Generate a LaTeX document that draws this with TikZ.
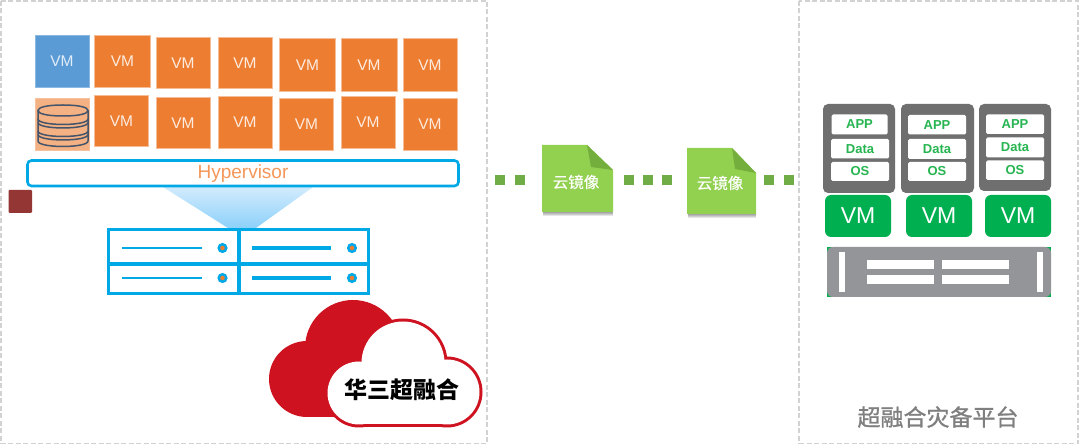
\documentclass[tikz,border=0pt]{standalone}
\usepackage{fontspec}
\setmainfont{Liberation Sans}
\newfontfamily\cjk{Noto Sans CJK SC}
\newfontfamily\cjkmed[FakeBold=0.5]{Noto Sans CJK SC}
\newfontfamily\cjktitle[FakeBold=1]{Noto Sans CJK SC}
\usetikzlibrary{shadings}
\definecolor{frameg}{HTML}{D2D2D2}
\definecolor{orangevm}{HTML}{ED7D31}
\definecolor{orangeedge}{HTML}{F6BE98}
\definecolor{bluevm}{HTML}{5B9BD5}
\definecolor{dbfill}{HTML}{F4B183}
\definecolor{dbline}{HTML}{44546A}
\definecolor{cyanline}{HTML}{00A9E6}
\definecolor{hyper}{HTML}{F4975A}
\definecolor{cloudred}{HTML}{CE1220}
\definecolor{docgreen}{HTML}{92D050}
\definecolor{docfold}{HTML}{74AE3C}
\definecolor{dotgreen}{HTML}{70AD47}
\definecolor{darkbox}{HTML}{6F6F70}
\definecolor{vmgreen}{HTML}{00B050}
\definecolor{textgreen}{HTML}{27B551}
\definecolor{rackgray}{HTML}{939598}
\definecolor{brickred}{HTML}{943634}
\definecolor{titlegray}{HTML}{7F7F7F}
\definecolor{beamtop}{HTML}{D2EBFD}
\definecolor{beambot}{HTML}{8DD1FA}
\newcommand{\bx}[7]{%
  \pgfmathsetmacro{\cxv}{(#3+#5)/2}\pgfmathsetmacro{\cyv}{(#4+#6)/2}%
  \pgfmathsetmacro{\wv}{#5-#3}\pgfmathsetmacro{\hv}{#6-#4}%
  \node[#2,minimum width=\wv pt,minimum height=\hv pt] (#1) at (\cxv,\cyv) {#7};}
\tikzset{
  x=1pt,y=-1pt,
  every node/.style={inner sep=0pt,outer sep=0pt},
  panel/.style={draw=frameg,line width=1.5pt,dash pattern=on 5pt off 2.5pt},
  orangebox/.style={fill=orangevm,draw=orangeedge,line width=0.7pt,text=white!85!orangevm,font=\fontsize{15.5}{15.5}\selectfont},
  bluebox/.style={fill=bluevm,draw=bluevm!70!white,line width=0.7pt,text=white!82!bluevm,font=\fontsize{15.5}{15.5}\selectfont},
  dbbox/.style={fill=dbfill,draw=dbfill!80!white,line width=0.7pt},
  dbstroke/.style={draw=dbline,line width=1.5pt},
  hyperbar/.style={draw=cyanline,fill=white,line width=2.6pt,rounded corners=4pt,text=hyper,font=\fontsize{19}{19}\selectfont},
  rack/.style={draw=cyanline,line width=3.3pt},
  rackthin/.style={draw=cyanline,line width=1.5pt},
  rackthick/.style={draw=cyanline,line width=3.6pt},
  leddot/.style={circle,fill=orangevm,draw=cyanline,line width=2.5pt,minimum size=7.5pt},
  squaredot/.style={fill=dotgreen,minimum size=10pt},
  doc/.style={fill=docgreen},
  docshadow/.style={fill=black,opacity=0.1},
  fold/.style={fill=docfold},
  doclabel/.style={text=white,font=\cjkmed\fontsize{15.5}{15.5}\selectfont},
  vmcase/.style={fill=darkbox,rounded corners=5pt},
  slot/.style={fill=white,rounded corners=1.5pt,text=textgreen,font=\bfseries\fontsize{13}{13}\selectfont},
  vmgreenbox/.style={fill=vmgreen,rounded corners=6pt,text=white,font=\fontsize{23}{23}\selectfont},
  chassis/.style={fill=rackgray,rounded corners=6pt},
  chassisbase/.style={fill=vmgreen},
  whitebar/.style={fill=white},
  cloudfill/.style={fill=cloudred},
  cloudtext/.style={text=black,font=\cjk\bfseries\fontsize{23}{23}\selectfont},
  titletext/.style={text=titlegray,font=\cjktitle\fontsize{23}{23}\selectfont},
}
\begin{document}
\begin{tikzpicture}
\useasboundingbox (0,0) rectangle (1080,446);
\fill[white] (0,0) rectangle (1080,446);
% panels
\draw[panel] (1,1) rectangle (487,443.5);
\draw[panel] (799,1) rectangle (1078,443.5);
% VM grid
\bx{vm0}{bluebox}{35}{35}{89}{87}{VM}
\bx{vm1}{orangebox}{94.5}{35}{150.5}{87}{VM}
\bx{vm2}{orangebox}{156}{37}{210}{88.5}{VM}
\bx{vm3}{orangebox}{218}{37}{272}{88.5}{VM}
\bx{vm4}{orangebox}{279.5}{38.5}{335.5}{91}{VM}
\bx{vm5}{orangebox}{341}{38.5}{397}{91}{VM}
\bx{vm6}{orangebox}{403}{38.5}{457}{91}{VM}
\bx{db}{dbbox}{35}{98.5}{89}{150.5}{}
\bx{vm7}{orangebox}{94.5}{95}{148.5}{146.5}{VM}
\bx{vm8}{orangebox}{156}{97}{210}{148.5}{VM}
\bx{vm9}{orangebox}{218}{96}{272}{148}{VM}
\bx{vm10}{orangebox}{279.5}{98.5}{333.5}{150.5}{VM}
\bx{vm11}{orangebox}{341}{96.5}{395}{148.5}{VM}
\bx{vm12}{orangebox}{403}{98.5}{457}{150.5}{VM}
% database icon
\draw[dbstroke] (38,110.5) -- (38,141) .. controls (38,148.3) and (88,148.3) .. (88,141) -- (88,110.5);
\draw[dbstroke] (63,105) .. controls (46,105) and (38,107.5) .. (38,110.5) .. controls (38,113.5) and (46,116) .. (63,116) .. controls (80,116) and (88,113.5) .. (88,110.5) .. controls (88,107.5) and (80,105) .. (63,105) -- cycle;
\foreach \yy in {119,122.5,131,134.5}
  \draw[dbstroke] (38,\yy) .. controls (38,\yy+7.3) and (88,\yy+7.3) .. (88,\yy);
% beam
\shade[top color=beamtop,bottom color=beambot] (163,187) -- (313,187) -- (256,228) -- (228,228) -- cycle;
% hypervisor
\bx{hv}{hyperbar}{27.5}{160.5}{458.5}{186}{\raisebox{-2pt}{Hypervisor}}
% brick
\bx{brick}{fill=brickred,rounded corners=1pt}{8.5}{190}{32}{213}{}
% blue server
\bx{srv}{rack}{108.5}{229.5}{368.5}{293.5}{}
\coordinate (vt) at (239,229.5); \coordinate (vb) at (239,293.5);
\coordinate (hl) at (108.5,264); \coordinate (hr) at (368.5,264);
\draw[rack] (vt) -- (vb);
\draw[rack] (hl) -- (hr);
\coordinate (la) at (122,248); \coordinate (lb) at (201.5,248);
\coordinate (lc) at (122,278); \coordinate (ld) at (201.5,278);
\coordinate (ra) at (252,248); \coordinate (rb) at (331,248);
\coordinate (rc) at (252,278); \coordinate (rd) at (331,278);
\draw[rackthin] (la) -- (lb);
\draw[rackthin] (lc) -- (ld);
\draw[rackthick] (ra) -- (rb);
\draw[rackthick] (rc) -- (rd);
\node[leddot] (led1) at (222.5,248) {};
\node[leddot] (led2) at (352,248) {};
\node[leddot] (led3) at (222.5,278) {};
\node[leddot] (led4) at (352,278) {};
% red cloud
\fill[cloudfill] (307,379) circle[radius=38pt];
\fill[cloudfill] (353,348) circle[radius=48pt];
\fill[cloudfill] (307,417) rectangle (400,340);
% white cloud with red rim
\fill[cloudfill] (403,363) circle[radius=44.5pt];
\fill[cloudfill] (359,393) circle[radius=34.5pt];
\fill[cloudfill] (447,392) circle[radius=35.5pt];
\fill[cloudfill] (359,392) rectangle (447,427.5);
\fill[white] (403,363) circle[radius=41.5pt];
\fill[white] (359,393) circle[radius=31.5pt];
\fill[white] (447,392) circle[radius=32.5pt];
\fill[white] (359,380) rectangle (447,424.5);
\node[cloudtext] (cloudlabel) at (402,390) {华三超融合};
% docs and dotted links
\foreach \n/\xx in {a/500,b/520,c/629,d/648,e/667,f/769,g/789}
  \node[squaredot] (dot\n) at (\xx,180) {};
\foreach \d in {1,2,3,4}{
  \fill[docshadow] (543,208) rectangle (613,212+\d);
  \fill[docshadow] (688,210) rectangle (756,214+\d);
}
\fill[doc] (542,145) -- (587,145) -- (613,170) -- (613,212) -- (542,212) -- cycle;
\fill[fold] (587,145) -- (613,170) -- (591,167) -- cycle;
\fill[doc] (687,148) -- (732,148) -- (756,173) -- (756,214) -- (687,214) -- cycle;
\fill[fold] (732,148) -- (756,173) -- (735,169) -- cycle;
\node[doclabel] (doc1) at (576,182) {云镜像};
\node[doclabel] (doc2) at (720,183) {云镜像};
% right stack
\bx{c1}{vmcase}{823}{104}{895}{193}{}
\bx{c2}{vmcase}{901}{104}{974}{193}{}
\bx{c3}{vmcase}{979}{104}{1051}{191}{}
\bx{a1}{slot}{831.5}{114.5}{887.5}{134.5}{APP}
\bx{d1}{slot}{831}{139}{889}{158.5}{Data}
\bx{o1}{slot}{831}{162}{889}{181}{OS}
\bx{a2}{slot}{908}{115}{966}{134.5}{APP}
\bx{d2}{slot}{908}{139}{966}{159}{Data}
\bx{o2}{slot}{908}{162}{966}{181}{OS}
\bx{a3}{slot}{986}{114.5}{1044}{134}{APP}
\bx{d3}{slot}{986}{137.5}{1044}{157.5}{Data}
\bx{o3}{slot}{986}{160.5}{1044}{180}{OS}
\bx{g1}{vmgreenbox}{825}{195}{891}{237}{VM}
\bx{g2}{vmgreenbox}{906}{195}{972}{237}{VM}
\bx{g3}{vmgreenbox}{985}{195}{1051}{237}{VM}
% appliance
\bx{base}{chassisbase}{827}{247}{1051}{297}{}
\bx{chs}{chassis}{827}{247}{1051}{297}{}
\bx{w1}{whitebar}{838.5}{252}{844.5}{292}{}
\bx{w2}{whitebar}{1037}{252}{1043}{292}{}
\bx{w3}{whitebar}{866.5}{260}{934}{269.5}{}
\bx{w4}{whitebar}{942}{260}{1009}{269.5}{}
\bx{w5}{whitebar}{866.5}{275}{934}{284.5}{}
\bx{w6}{whitebar}{942}{275}{1009}{284.5}{}
\node[titletext] (title) at (938,417) {超融合灾备平台};
\end{tikzpicture}
\end{document}
